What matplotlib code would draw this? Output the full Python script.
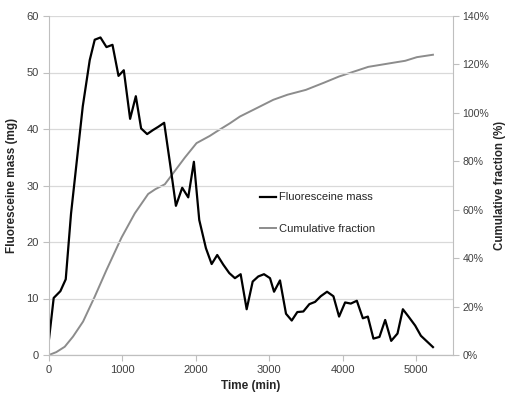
import numpy as np
import matplotlib
matplotlib.use("Agg")
import matplotlib.pyplot as plt
from matplotlib.ticker import FuncFormatter

# fluoresceine mass (mg) vs time (min)
t_mass = [0, 64, 155, 228, 300, 380, 460, 555, 623, 701, 783, 865, 947, 1019,
          1105, 1183, 1255, 1337, 1415, 1490, 1569, 1650, 1729, 1815, 1897, 1974,
          2047, 2138, 2216, 2292, 2374, 2456, 2533, 2611, 2693, 2775, 2851, 2929,
          3011, 3066, 3147, 3229, 3307, 3383, 3465, 3547, 3625, 3702, 3788, 3875,
          3952, 4034, 4112, 4194, 4276, 4344, 4420, 4502, 4580, 4662, 4748, 4821,
          4898, 4989, 5067, 5149, 5231]
mass = [2.8, 10.1, 11.3, 13.4, 25.0, 34.5, 44.0, 52.2, 55.8, 56.2, 54.5, 54.9, 49.4, 50.4,
        41.8, 45.8, 40.1, 39.1, 39.8, 40.4, 41.1, 33.8, 26.4, 29.6, 27.9, 34.2,
        23.9, 18.9, 16.1, 17.7, 16.0, 14.5, 13.6, 14.3, 8.1, 13.0, 13.9, 14.3,
        13.6, 11.2, 13.2, 7.3, 6.1, 7.6, 7.7, 9.0, 9.4, 10.4, 11.2, 10.4,
        6.8, 9.3, 9.1, 9.6, 6.5, 6.8, 2.9, 3.2, 6.2, 2.5, 3.8, 8.1,
        6.8, 5.2, 3.4, 2.4, 1.4]

# cumulative fraction (%)
t_cum = [0, 100, 214, 327, 464, 623, 783, 988, 1169, 1351, 1450, 1578, 1692, 1850,
         2010, 2192, 2284, 2465, 2602, 2800, 3056, 3250, 3500, 3750, 3950, 4150,
         4350, 4550, 4750, 4853, 5012, 5231]
cum = [0, 1.2, 3.4, 7.6, 13.8, 24.1, 35.1, 48.5, 58.5, 66.5, 68.5, 70.5, 75.1, 81.5,
       87.5, 90.5, 92.3, 95.7, 98.5, 101.5, 105.4, 107.5, 109.5, 112.5, 115, 117,
       119, 120, 121, 121.5, 123, 124]

plt.rcParams['font.family'] = ['Liberation Sans', 'DejaVu Sans']
tick_col = '#404040'
axis_col = '#bfbfbf'

fig = plt.figure(figsize=(5.08, 3.98), dpi=100)
ax = fig.add_axes([49 / 508, 43 / 398, (452.7 - 49) / 508, (355 - 16) / 398])
ax2 = ax.twinx()

l1, = ax.plot(t_mass, mass, color='black', lw=1.6, label='Fluoresceine mass')
l2, = ax2.plot(t_cum, cum, color='#8c8c8c', lw=1.4, label='Cumulative fraction')
ax.set_zorder(ax2.get_zorder() + 1)
ax.patch.set_visible(False)

ax.set_xlim(0, 5500)
ax.set_ylim(0, 60)
ax2.set_ylim(0, 140)
ax.set_xticks(np.arange(0, 5001, 1000))
ax.set_yticks(np.arange(0, 61, 10))
ax2.set_yticks(np.arange(0, 141, 20))
ax2.yaxis.set_major_formatter(FuncFormatter(lambda v, p: f"{int(v)}%"))

ax.grid(axis='y', color='#d9d9d9', lw=0.9)
ax.set_axisbelow(True)

for a in (ax, ax2):
    for s in a.spines.values():
        s.set_color(axis_col)
    a.spines['top'].set_visible(False)
    a.tick_params(colors=axis_col, labelcolor=tick_col, labelsize=8, length=4, width=0.8)
ax2.tick_params(labelsize=7.6, pad=3)
ax.spines['right'].set_visible(False)
ax2.spines['left'].set_visible(False)

ax.set_xlabel('Time (min)', fontsize=8.5, fontweight='bold', color='#262626', labelpad=3)
ax.set_ylabel('Fluoresceine mass (mg)', fontsize=8.5, fontweight='bold', color='#262626')
ax2.set_ylabel('Cumulative fraction (%)', fontsize=8.3, fontweight='bold', color='#262626')
ax.yaxis.set_label_coords(-0.077, 0.5)
ax2.yaxis.set_label_coords(1.102, 0.5)

fig.legend(handles=[l1, l2], loc='center left', bbox_to_anchor=(250 / 508, 1 - 213 / 398),
           frameon=False, fontsize=8, handlelength=1.4, handletextpad=0.3, labelspacing=1.9,
           labelcolor='#262626')

fig.savefig('out.png', dpi=100)
